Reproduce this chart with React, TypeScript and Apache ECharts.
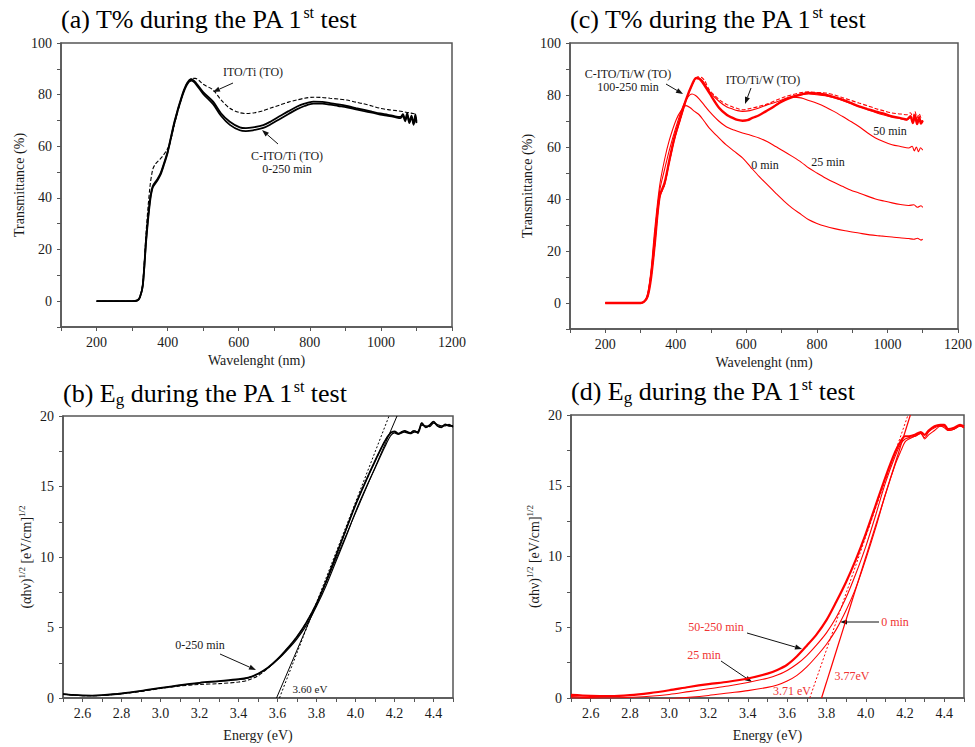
import React, { useEffect, useRef } from 'react';
import * as echarts from 'echarts';

const FONT = "'Liberation Serif', serif";
const RED = '#ff0000';
const RED_TXT = '#f03333';

// ---------- (a) T% ITO/Ti ----------
const wlA = [200,300,315,322,330,340,350,358,370,380,390,400,420,440,455,467,480,500,528,550,575,603,620,640,669,690,716,740,763,785,810,835,857,880,904,930,950,975,998,1020,1040,1055,1062,1068,1074,1080,1086,1092,1097,1100];
const tA_C1 = [0,0,0.3,1.5,6,25,39,44.5,47,49.5,53.5,58,70,79.5,84.5,86,84.5,81,77.3,72.8,69.5,67.3,67,67.3,68.2,69.6,71.7,73.6,75.3,76.5,77.3,77.2,76.7,76.2,75.6,74.8,74.2,73.4,72.7,72.2,71.6,71.4,72.4,70.2,72.8,69.4,71.9,68.8,72.3,69.6];
const tA_C2 = [0,0,0.3,1.5,6,24,38,44,46.5,49,53,57.5,69.5,79,84,85.4,84,80.3,76.3,71.8,68.3,66.2,65.9,66.2,67.1,68.5,70.6,72.5,74.3,75.6,76.5,76.5,76.1,75.6,75.1,74.3,73.7,73,72.3,71.8,71.3,70.9,71.8,69.7,72.1,69,71.4,68.3,71.6,69];
const wlA_ITO = [200,300,315,322,330,340,350,358,365,375,385,395,405,420,440,455,470,478,490,500,528,550,575,603,622,645,669,690,716,740,763,785,810,835,857,880,904,930,950,975,998,1020,1044,1060,1070,1080,1090,1100];
const tA_ITO = [0,0,0.3,1.5,7,28,44,51,53,54.5,56,58,60.5,69,79,84.5,86.3,86.3,85.3,84,81.8,78,74.7,73,72.7,73,73.8,74.8,76,77.1,77.9,78.6,79,78.9,78.6,78.3,77.9,77.1,76.5,75.6,74.7,74.2,73.8,73.5,73.2,73,72.7,72.5];

// ---------- (c) T% ITO/Ti/W ----------
const wlC_g = [200,300,310,320,330,340,354,368,382,396,410,429,448,457,466,475,495,523,545,561,575,589,603,617,636,655,675,693,710,730,755,777,800,824,848,872,895,919,943,966,990,1013,1037,1055,1065,1072,1078,1084,1090,1095,1100];
const tC_100_250a = [0,0,0.5,2.5,10,22.5,41,46.1,55.1,63.5,69.9,78.2,84.6,86.5,86.3,85,80.8,75,72.3,71.2,70.4,70.1,70.3,71.2,72.2,73.7,75.3,76.9,78.1,79.2,80.2,80.8,80.6,80.1,79.2,78.2,77,75.6,74.6,73.7,72.8,71.8,71.1,70.6,71.8,69.2,72.2,68.8,71.5,69,70.2];
const wlC_t = [200,300,310,320,330,340,354,368,382,396,410,429,448,460,470,480,495,523,545,561,575,589,610,636,660,683,710,730,755,777,800,824,850,872,895,919,943,966,990,1013,1037,1055,1065,1072,1078,1084,1090,1095,1100];
const tC_100_250b = [0,0,0.5,2.5,10,22,40.5,45.5,54.5,63,69.5,78,84.4,86.6,86.2,84.8,81.4,77.5,75.4,74.6,74,73.7,74,75,76.3,77.2,78.6,79.5,80.1,80.4,80.1,79.7,78.9,77.9,76.8,75.6,74.4,73.3,72.3,71.5,70.9,70.4,71.4,69.3,71.8,69,71,69.4,70.3];
const wlC_d = [200,300,310,320,330,340,354,368,382,396,410,429,448,462,472,482,495,523,545,561,575,589,610,636,660,683,710,730,755,777,800,824,850,872,895,919,943,966,990,1013,1037,1055,1065,1072,1078,1084,1090,1095,1100];
const tC_ITO = [0,0,0.5,2.5,10,22,40.5,45.5,54.5,63,69.5,78,84.5,87,86.8,85.5,82,78.2,76.3,75.4,74.8,74.3,74.8,75.6,76.6,77.9,79.3,80.1,80.9,81.2,81,80.8,80,79,78,76.9,75.9,74.8,73.9,73.1,72.7,72.4,73.2,71.5,73.6,71.2,72.8,71.4,72];
const wlC_50 = [680,700,730,755,777,800,824,848,872,895,919,943,966,990,1013,1037,1060,1070,1076,1082,1088,1094,1100];
const tC_50 = [75.9,77.5,79.2,78.9,77.9,76.8,75.4,73.7,71.8,69.9,67.9,65.5,63.5,62,60.9,60.2,59.6,60.3,58.5,60,58.2,59.7,58.8];
const wlC_25 = [200,300,310,320,330,340,354,368,382,401,420,433,446,456,466,480,495,520,542,565,589,612,636,660,683,706,730,755,777,800,824,848,872,895,919,943,966,990,1013,1037,1060,1075,1085,1095,1100];
const tC_25 = [0,0,0.5,3,12,26,43,51.3,59,67.9,75.6,79,80.4,79.8,78.5,76.2,73.7,70.2,67.9,66.5,65.4,64.5,63.5,62,60.2,58.4,56.4,54.2,51.9,50,48.1,46.4,44.9,43.5,42.3,41.1,40,39.2,38.5,37.9,37.5,37.8,36.8,37.4,36.8];
const wlC_0 = [200,300,310,320,330,340,354,368,382,401,415,429,440,452,466,480,495,520,542,565,589,612,636,660,683,706,730,755,777,800,824,850,880,919,950,980,1013,1040,1060,1075,1085,1095,1100];
const tC_0 = [0,0,0.5,3.5,13,28,45,55.1,62.8,70.5,74,75.9,75.2,73.8,72.4,70,67.3,63.8,60.9,58.4,55.8,52.3,48.7,45.4,42.3,39.3,36.5,34.1,32,30.6,29.5,28.6,27.8,26.9,26.2,25.8,25.4,25,24.8,24.5,24.9,24.2,24.5];

// ---------- (b) Eg ITO/Ti ----------
const eB = [2.5,2.55,2.6,2.65,2.7,2.8,2.9,3.0,3.1,3.2,3.3,3.4,3.45,3.5,3.55,3.6,3.65,3.7,3.75,3.8,3.85,3.9,3.95,4.0,4.05,4.1,4.15,4.18,4.2,4.22,4.25,4.28,4.3,4.32,4.34,4.36,4.38,4.4,4.42,4.44,4.46,4.48,4.5];
const gB_C1 = [0.28,0.22,0.18,0.17,0.2,0.32,0.5,0.72,0.92,1.08,1.2,1.33,1.45,1.72,2.15,2.75,3.5,4.35,5.4,6.7,8.3,10.1,11.9,13.7,15.3,16.8,18.2,18.8,18.9,18.75,18.95,18.8,18.95,18.8,19.5,19.2,19.35,19.6,19.3,19.2,19.4,19.3,19.3];
const gB_C2 = [0.27,0.21,0.17,0.16,0.19,0.31,0.49,0.7,0.9,1.06,1.18,1.31,1.43,1.7,2.12,2.7,3.4,4.2,5.2,6.5,8.0,9.7,11.4,13.2,14.8,16.3,17.8,18.6,18.8,18.7,18.85,18.75,18.85,18.9,19.35,19.3,19.25,19.5,19.4,19.3,19.3,19.4,19.2];
const gB_ITO = [0.27,0.21,0.17,0.16,0.19,0.3,0.47,0.68,0.85,0.96,1.02,1.13,1.27,1.58,2.1,2.75,3.5,4.35,5.4,6.7,8.3,10.1,11.9,13.7,15.3,16.8,18.2,18.8,18.9,18.75,18.95,18.8,18.95,18.8,19.5,19.2,19.35,19.6,19.3,19.2,19.4,19.3,19.3];
const fitB_solidX = [3.595, 4.213];
const fitB_dotX = [3.61, 4.172];
const fitY = [0, 20];

// ---------- (d) Eg ITO/Ti/W ----------
const eD = [2.5,2.6,2.7,2.8,2.9,3.0,3.1,3.2,3.3,3.4,3.5,3.55,3.6,3.65,3.7,3.75,3.8,3.85,3.9,3.95,4.0,4.05,4.1,4.15,4.18,4.2,4.22,4.25,4.28,4.3,4.32,4.35,4.38,4.4,4.42,4.45,4.48,4.5];
const gD_50_250 = [0.22,0.15,0.13,0.2,0.35,0.55,0.78,0.98,1.15,1.38,1.72,1.98,2.35,2.95,3.7,4.5,5.5,6.8,8.2,9.8,11.6,13.6,15.6,17.4,18.2,18.5,18.5,18.6,18.8,18.6,18.9,19.2,19.3,19.3,19.0,19.1,19.3,19.2];
const gD_25 = [0.1,0.03,0.0,0.05,0.12,0.25,0.45,0.65,0.85,1.1,1.4,1.62,1.95,2.4,3.0,3.75,4.6,5.7,7.1,8.8,10.7,12.9,15.2,17.1,18.0,18.3,18.4,18.5,18.7,18.4,18.8,19.1,19.2,19.2,18.9,19.0,19.2,19.1];
const gD_0 = [0.0,-0.05,-0.1,-0.12,-0.1,-0.05,0.05,0.18,0.35,0.52,0.75,0.92,1.2,1.6,2.2,2.95,3.8,4.85,6.2,7.8,9.8,12.0,14.4,16.5,17.5,18.1,18.3,18.5,18.7,18.3,18.6,18.9,19.2,19.1,18.9,19.0,19.2,19.1];
const fitD_dotX = [3.715, 4.215];
const fitD_solidX = [3.775, 4.227];

const pairs = (xs: number[], ys: number[]) => xs.map((x, i) => [x, ys[i]]);

function line(xs: number[], ys: number[], idx: number, color: string, width: number, type: any = 'solid', smooth: any = 0.3, z = 2) {
  return {
    type: 'line', xAxisIndex: idx, yAxisIndex: idx, data: pairs(xs, ys),
    showSymbol: false, symbol: 'none', smooth, silent: true, z,
    lineStyle: { color, width, type },
  };
}

const AX = '#555';
const TXT = '#1a1a1a';

function wlXAxis(idx: number) {
  return {
    gridIndex: idx, type: 'value', min: 100, max: 1200, interval: 100,
    name: 'Wavelenght (nm)', nameLocation: 'middle', nameGap: 26,
    nameTextStyle: { fontSize: 14, color: TXT, fontFamily: FONT },
    axisLine: { show: true, onZero: false, lineStyle: { color: AX, width: 1.5 } },
    axisTick: { show: true, length: 4, lineStyle: { color: AX, width: 1 } },
    axisLabel: { fontSize: 14, color: TXT, fontFamily: FONT, margin: 8,
      formatter: (v: number) => (Math.round(v) % 200 === 0 ? String(Math.round(v)) : '') },
    splitLine: { show: false },
  };
}
function tYAxis(idx: number, gap: number) {
  return {
    gridIndex: idx, type: 'value', min: -10, max: 100, interval: 10,
    name: 'Transmittance (%)', nameLocation: 'middle', nameGap: gap,
    nameTextStyle: { fontSize: 14, color: TXT, fontFamily: FONT },
    axisLine: { show: true, onZero: false, lineStyle: { color: AX, width: 1.5 } },
    axisTick: { show: true, length: 4, lineStyle: { color: AX, width: 1 } },
    axisLabel: { fontSize: 14, color: TXT, fontFamily: FONT, margin: 9,
      formatter: (v: number) => { const r = Math.round(v); return r >= 0 && r % 20 === 0 ? String(r) : ''; } },
    splitLine: { show: false },
  };
}
function eXAxis(idx: number) {
  return {
    gridIndex: idx, type: 'value', min: 2.5, max: 4.5, interval: 0.1,
    name: 'Energy (eV)', nameLocation: 'middle', nameGap: 30,
    nameTextStyle: { fontSize: 14, color: TXT, fontFamily: FONT },
    axisLine: { show: true, onZero: false, lineStyle: { color: AX, width: 1.5 } },
    axisTick: { show: true, length: 4, lineStyle: { color: AX, width: 1 } },
    axisLabel: { fontSize: 14, color: TXT, fontFamily: FONT, margin: 8,
      formatter: (v: number) => { const k = Math.round(v * 10); return k % 2 === 0 && k > 25 && k < 45 ? (k / 10).toFixed(1) : ''; } },
    splitLine: { show: false },
  };
}
function gYAxis(idx: number) {
  return {
    gridIndex: idx, type: 'value', min: 0, max: 20, interval: 2.5,
    name: '{n|(αhν)}{s|1/2}{n| [eV/cm]}{s|1/2}', nameLocation: 'middle', nameGap: 28,
    nameTextStyle: {
      color: TXT, fontFamily: FONT, fontSize: 14,
      rich: {
        n: { fontSize: 14, fontFamily: FONT, color: TXT, lineHeight: 18 },
        s: { fontSize: 9, fontFamily: FONT, color: TXT, lineHeight: 9, verticalAlign: 'top' },
      },
    },
    axisLine: { show: true, onZero: false, lineStyle: { color: AX, width: 1.5 } },
    axisTick: { show: true, length: 4, lineStyle: { color: AX, width: 1 } },
    axisLabel: { fontSize: 14, color: TXT, fontFamily: FONT, margin: 9,
      formatter: (v: number) => { const r = Math.round(v * 10) / 10; return r % 5 === 0 ? String(r) : ''; } },
    splitLine: { show: false },
  };
}

function arrow(x1: number, y1: number, x2: number, y2: number, color = '#111') {
  const dx = x2 - x1, dy = y2 - y1, L = Math.hypot(dx, dy);
  const ux = dx / L, uy = dy / L, hl = 7, hw = 2.6;
  const bx = x2 - ux * hl, by = y2 - uy * hl;
  return [
    { type: 'line', shape: { x1, y1, x2: bx, y2: by }, style: { stroke: color, lineWidth: 1 }, silent: true },
    { type: 'polygon', shape: { points: [[x2, y2], [bx - uy * hw, by + ux * hw], [bx + uy * hw, by - ux * hw]] }, style: { fill: color }, silent: true },
  ];
}
function label(text: string, x: number, y: number, color = TXT, size = 12) {
  return { type: 'text', x, y, silent: true,
    style: { text, fill: color, fontSize: size, fontFamily: FONT, align: 'center', verticalAlign: 'middle' } };
}

const titleRich = {
  n: { fontSize: 26, fontFamily: FONT, fontWeight: 'normal', color: '#000', lineHeight: 30 },
  s: { fontSize: 16, fontFamily: FONT, fontWeight: 'normal', color: '#000', lineHeight: 14, verticalAlign: 'top' },
  g: { fontSize: 17, fontFamily: FONT, fontWeight: 'normal', color: '#000', lineHeight: 16, verticalAlign: 'bottom' },
};
const titleStyle = { fontWeight: 'normal', fontFamily: FONT, rich: titleRich };

export default function App() {
  const ref = useRef<HTMLDivElement>(null);
  useEffect(() => {
    if (!ref.current) return;
    const chart = echarts.init(ref.current, null, { renderer: 'svg' });
    const option: any = {
      animation: false,
      backgroundColor: '#fff',
      textStyle: { fontFamily: FONT },
      title: [
        { text: '{n|(a) T% during the PA 1}{s|st}{n| test}', left: 61, top: 4, padding: 0, textStyle: titleStyle },
        { text: '{n|(c) T% during the PA 1}{s|st}{n| test}', left: 570, top: 4, padding: 0, textStyle: titleStyle },
        { text: '{n|(b) E}{g|g}{n| during the PA 1}{s|st}{n| test}', left: 63, top: 378, padding: 0, textStyle: titleStyle },
        { text: '{n|(d) E}{g|g}{n| during the PA 1}{s|st}{n| test}', left: 571, top: 376, padding: 0, textStyle: titleStyle },
      ],
      grid: [
        { left: 61, top: 43, width: 391, height: 284, show: true, borderColor: AX, borderWidth: 1.5 },
        { left: 570, top: 43, width: 389, height: 286, show: true, borderColor: AX, borderWidth: 1.5 },
        { left: 63, top: 416, width: 390, height: 282, show: true, borderColor: AX, borderWidth: 1.5 },
        { left: 571, top: 415, width: 393, height: 283, show: true, borderColor: AX, borderWidth: 1.5 },
      ],
      xAxis: [wlXAxis(0), wlXAxis(1), eXAxis(2), eXAxis(3)],
      yAxis: [tYAxis(0, 35), tYAxis(1, 36), gYAxis(2), gYAxis(3)],
      series: [
        // (a)
        line(wlA, tA_C2, 0, '#000', 1.8),
        line(wlA, tA_C1, 0, '#000', 1.8),
        line(wlA_ITO, tA_ITO, 0, '#000', 1.1, [4, 2]),
        // (c)
        line(wlC_0, tC_0, 1, RED, 1.1),
        line(wlC_25, tC_25, 1, RED, 1.1),
        line(wlC_50, tC_50, 1, RED, 1.1),
        line(wlC_t, tC_100_250b, 1, RED, 1.1),
        line(wlC_g, tC_100_250a, 1, RED, 2.4),
        line(wlC_d, tC_ITO, 1, RED, 1.1, [4, 2]),
        // (b)
        line(eB, gB_ITO, 2, '#000', 1.1, [4, 2]),
        line(eB, gB_C2, 2, '#000', 1.2),
        line(eB, gB_C1, 2, '#000', 1.8),
        line(fitB_solidX, fitY, 2, '#000', 1, 'solid', false),
        line(fitB_dotX, fitY, 2, '#000', 1, [2, 2], false),
        // (d)
        line(eD, gD_0, 3, RED, 1.1),
        line(eD, gD_25, 3, RED, 1.1),
        line(eD, gD_50_250, 3, RED, 2.2),
        line(fitD_dotX, fitY, 3, RED, 1, [2, 2], false),
        line(fitD_solidX, fitY, 3, RED, 1.2, 'solid', false),
      ],
      graphic: [
        // (a)
        label('ITO/Ti (TO)', 253, 72),
        ...arrow(233, 83, 213, 92),
        label('C-ITO/Ti (TO)', 287, 156),
        label('0-250 min', 287, 168.5),
        ...arrow(278, 144, 262, 130),
        // (c)
        label('C-ITO/Ti/W (TO)', 628, 73.5),
        label('100-250 min', 628, 86.5),
        ...arrow(666, 84, 683, 94),
        label('ITO/Ti/W (TO)', 763, 79.5),
        ...arrow(751, 88, 745, 104),
        label('50 min', 890, 131),
        label('25 min', 828, 162),
        label('0 min', 765, 164.5),
        // (b)
        label('0-250 min', 200, 645),
        ...arrow(220, 654, 256, 670),
        label('3.60 eV', 310, 689, TXT, 11),
        // (d)
        label('50-250 min', 716, 627, RED_TXT),
        ...arrow(747, 633, 802, 649),
        label('25 min', 704, 655, RED_TXT),
        ...arrow(721, 661, 752, 682),
        label('0 min', 895, 622, RED_TXT),
        ...arrow(879, 622, 840, 622),
        label('3.71 eV', 792, 691, RED_TXT),
        label('3.77eV', 852, 676, RED_TXT),
      ],
    };
    chart.setOption(option);
    return () => chart.dispose();
  }, []);
  return <div ref={ref} style={{ position: 'absolute', left: 0, top: 0, width: 975, height: 747, background: '#fff' }} />;
}
